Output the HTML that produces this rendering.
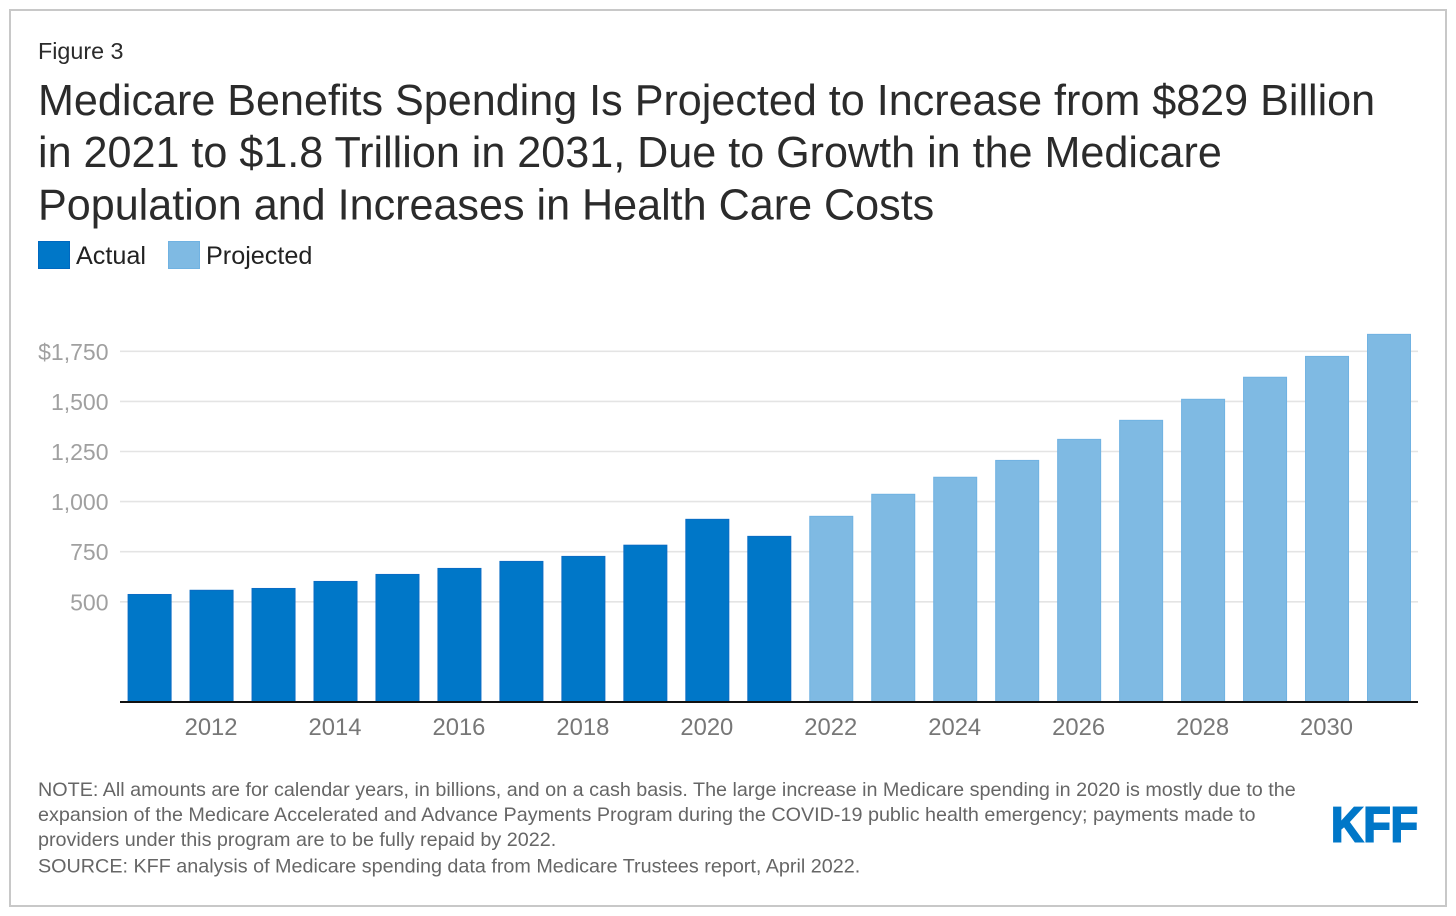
<!DOCTYPE html>
<html lang="en">
<head>
<meta charset="utf-8">
<title>Medicare Benefits Spending</title>
<style>
html,body{margin:0;padding:0;background:#fff;width:1456px;height:916px;overflow:hidden}
svg{display:block}
text{font-family:"Liberation Sans",Arial,sans-serif}
.note{font-size:19.76px;fill:#666}
.title{font-size:43.12px;fill:#2b2b2b}
.ytick{font-size:23px;fill:#a0a0a0}
.xtick{font-size:23.8px;fill:#777}
.legend{font-size:25.2px;fill:#222}
</style>
</head>
<body>
<svg id="chart" xmlns="http://www.w3.org/2000/svg" width="1456" height="916" viewBox="0 0 1456 916">
  <rect x="10" y="10" width="1436" height="896" fill="#fff" stroke="#c8c8c8" stroke-width="2"/>
  <text x="38" y="59" font-size="23.3" fill="#2b2b2b">Figure 3</text>
  <g>
    <text class="title" x="38" y="115">Medicare Benefits Spending Is Projected to Increase from $829 Billion</text>
    <text class="title" x="38" y="167">in 2021 to $1.8 Trillion in 2031, Due to Growth in the Medicare</text>
    <text class="title" x="38" y="219.5">Population and Increases in Health Care Costs</text>
  </g>
  <g>
    <rect x="38.5" y="241.5" width="31" height="27" fill="#0077c8" stroke="#0068c0"/>
    <text class="legend" x="76" y="264">Actual</text>
    <rect x="168.5" y="241.5" width="31" height="27" fill="#7fbae3" stroke="#70b2e2"/>
    <text class="legend" x="206" y="264">Projected</text>
  </g>
  <g id="grid"></g>
  <g id="yticks"></g>
  <g id="bars"></g>
  <line x1="120" x2="1418" y1="702" y2="702" stroke="#111" stroke-width="2"/>
  <g id="xticks"></g>
  <g>
    <text class="note" x="38" y="796">NOTE: All amounts are for calendar years, in billions, and on a cash basis. The large increase in Medicare spending in 2020 is mostly due to the</text>
    <text class="note" x="38" y="821">expansion of the Medicare Accelerated and Advance Payments Program during the COVID-19 public health emergency; payments made to</text>
    <text class="note" x="38" y="846">providers under this program are to be fully repaid by 2022.</text>
    <text class="note" x="38" y="872.5">SOURCE: KFF analysis of Medicare spending data from Medicare Trustees report, April 2022.</text>
  </g>
  <text x="1331" y="841.5" font-size="49.5" font-weight="700" fill="#0077c8" stroke="#0077c8" stroke-width="2" textLength="87" lengthAdjust="spacingAndGlyphs">KFF</text>
</svg>
<script>
const years = [2011,2012,2013,2014,2015,2016,2017,2018,2019,2020,2021,2022,2023,2024,2025,2026,2027,2028,2029,2030,2031];
const actualValues = [539,560,569,604,639,669,704,729,785,914,829];
const projectedValues = [929,1039,1124,1208,1313,1408,1513,1623,1727,1837];
const yTicks = [500,750,1000,1250,1500,1750];
const yTickLabels = ["500","750","1,000","1,250","1,500","$1,750"];
const xTickYears = [2012,2014,2016,2018,2020,2022,2024,2026,2028,2030];

const NS = 'http://www.w3.org/2000/svg';
const y = v => 702 - v * 0.2004;
const x = yr => 149.6 + (yr - years[0]) * 61.97;
const BAR_W = 43;
const gridG = document.getElementById('grid');
const yG = document.getElementById('yticks');
const barG = document.getElementById('bars');
const xG = document.getElementById('xticks');

yTicks.forEach((t, i) => {
  const l = document.createElementNS(NS, 'line');
  
  
  l.setAttribute('x1', 120);
  l.setAttribute('x2', 1418);
  l.setAttribute('y1', y(t));
  l.setAttribute('y2', y(t));
  l.setAttribute('stroke', '#e4e4e4');
  l.setAttribute('stroke-width', '1.6');
  gridG.appendChild(l);
  const tx = document.createElementNS(NS, 'text');
  
  
  tx.setAttribute('class', 'ytick');
  tx.setAttribute('x', 108.5);
  tx.setAttribute('y', y(t) + 8.5);
  tx.setAttribute('text-anchor', 'end');
  tx.textContent = yTickLabels[i];
  yG.appendChild(tx);
});

function drawBar(yr, v, fill, stroke, name) {
  const r = document.createElementNS(NS, 'rect');
  
  
  r.setAttribute('x', x(yr) - BAR_W / 2);
  r.setAttribute('y', y(v) + 0.5);
  r.setAttribute('width', BAR_W);
  r.setAttribute('height', 702 - y(v) - 0.5);
  r.setAttribute('fill', fill);
  r.setAttribute('stroke', stroke);
  r.setAttribute('stroke-width', '1');
  barG.appendChild(r);
}
actualValues.forEach((v, i) => drawBar(years[i], v, '#0077c8', '#0a6cc4', 'bar-actual'));
projectedValues.forEach((v, i) => drawBar(years[i + actualValues.length], v, '#7fbae3', '#70b2e2', 'bar-projected'));

xTickYears.forEach(yr => {
  const tx = document.createElementNS(NS, 'text');
  
  
  tx.setAttribute('class', 'xtick');
  tx.setAttribute('x', x(yr) - 0.5);
  tx.setAttribute('y', 735);
  tx.setAttribute('text-anchor', 'middle');
  tx.textContent = yr;
  xG.appendChild(tx);
});
</script>
</body>
</html>
